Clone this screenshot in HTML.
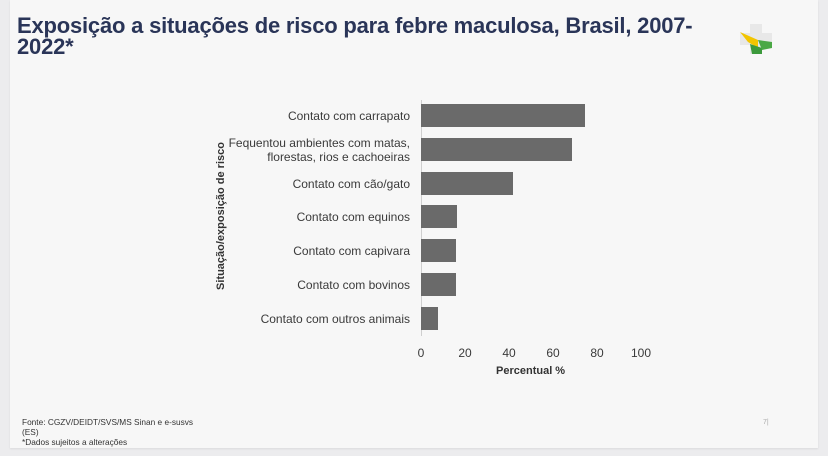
<!DOCTYPE html>
<html><head><meta charset="utf-8"><style>
html,body{margin:0;padding:0;}
body{width:828px;height:456px;background:#ececee;position:relative;overflow:hidden;font-family:"Liberation Sans",sans-serif;}
.card{position:absolute;left:10px;top:0;width:808px;height:448px;background:#f7f7f7;box-shadow:0 1px 2px rgba(0,0,0,.08);}
.title{position:absolute;left:17px;top:15px;font-size:22px;font-weight:bold;color:#2a3558;line-height:21px;letter-spacing:-0.2px;}
.lbl{position:absolute;font-size:12px;color:#3a3a3a;text-align:right;right:418px;line-height:14px;}
.bar{position:absolute;left:421px;height:23px;background:#6a6a6a;}
.tick{position:absolute;top:346px;font-size:12px;color:#3a3a3a;width:30px;text-align:center;}
.foot{position:absolute;left:22px;top:417px;font-size:8.3px;color:#333;line-height:10px;}
</style></head><body>
<div class="card"></div>
<div class="title">Exposição a situações de risco para febre maculosa, Brasil, 2007-<br>2022*</div>
<svg style="position:absolute;left:738px;top:22px" width="36" height="34" viewBox="0 0 36 34">
<rect x="12" y="2" width="12" height="30" fill="#e8e8e8"/><rect x="2" y="11" width="32" height="12" fill="#e8e8e8"/>
<path d="M2 10 L20 18 L20 26 L10 20 Z" fill="#f2c500"/>
<path d="M12 22 L24 26 L24 32 L14 32 Z" fill="#3c9a3c"/>
<path d="M20 18 L34 20 L34 26 L24 28 Z" fill="#4aa845"/>
</svg>
<div style="position:absolute;left:421px;top:100px;width:1px;height:236px;background:#cfcfcf"></div>
<div class="lbl" style="top:109px">Contato com carrapato</div>
<div class="bar" style="top:104px;width:164px"></div>
<div class="lbl" style="top:136px">Fequentou ambientes com matas,<br>florestas, rios e cachoeiras</div>
<div class="bar" style="top:138px;width:151px"></div>
<div class="lbl" style="top:177px">Contato com cão/gato</div>
<div class="bar" style="top:172px;width:92px"></div>
<div class="lbl" style="top:210px">Contato com equinos</div>
<div class="bar" style="top:205px;width:36px"></div>
<div class="lbl" style="top:244px">Contato com capivara</div>
<div class="bar" style="top:239px;width:35px"></div>
<div class="lbl" style="top:278px">Contato com bovinos</div>
<div class="bar" style="top:273px;width:35px"></div>
<div class="lbl" style="top:312px">Contato com outros animais</div>
<div class="bar" style="top:307px;width:17px"></div>
<div class="tick" style="left:406px">0</div>
<div class="tick" style="left:450px">20</div>
<div class="tick" style="left:494px">40</div>
<div class="tick" style="left:538px">60</div>
<div class="tick" style="left:582px">80</div>
<div class="tick" style="left:626px">100</div>
<div style="position:absolute;left:496px;top:365px;font-size:11px;font-weight:bold;color:#333">Percentual %</div>
<div style="position:absolute;left:221px;top:216px;transform:translate(-50%,-50%) rotate(-90deg);font-size:11px;font-weight:bold;color:#333;white-space:nowrap">Situação/exposição de risco</div>
<div class="foot">Fonte: CGZV/DEIDT/SVS/MS Sinan e e-susvs<br>(ES)<br>*Dados sujeitos a alterações</div>
<div style="position:absolute;left:763px;top:419px;font-size:7px;color:#aaa">7|</div>
</body></html>
